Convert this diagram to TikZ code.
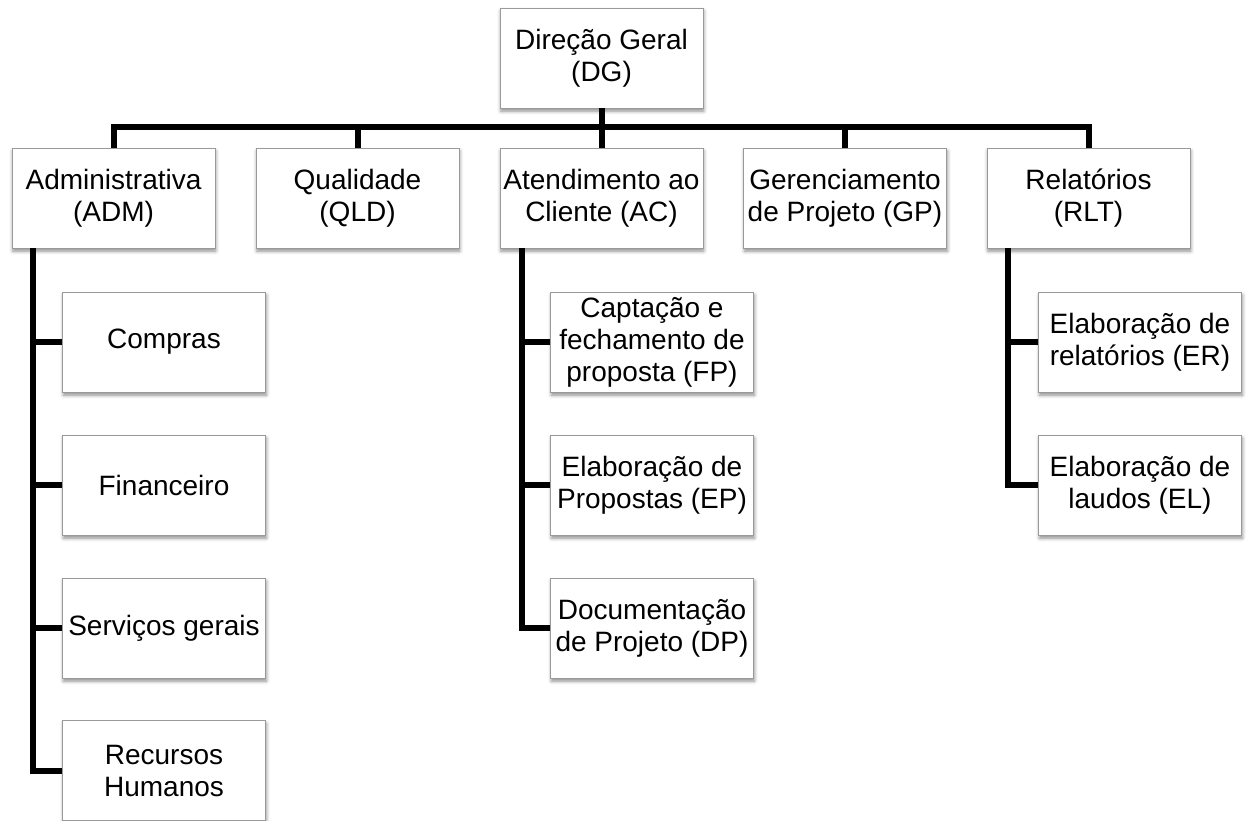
\documentclass[tikz,border=0pt]{standalone}
\usepackage{fontspec}
\setmainfont{Liberation Sans}
\usetikzlibrary{shadows.blur}
\begin{document}
\begin{tikzpicture}[x=1pt,y=-1pt,
  unit/.style={draw=black!40, line width=0.9pt, fill=white,
    minimum width=203pt, minimum height=100pt, inner sep=0pt,
    align=center, font=\fontsize{28}{32}\selectfont,
    blur shadow={shadow xshift=0.8pt, shadow yshift=-3pt,
      shadow blur radius=3.5pt, shadow opacity=45}},
  link/.style={line width=6pt, black}]
\useasboundingbox (0,0) rectangle (1252,821);

% top level and departments
\node[unit] (dg)  at (601.5,58)  {Direção Geral\\(DG)};
\node[unit] (adm) at (113.5,198) {Administrativa\\(ADM)};
\node[unit] (qld) at (357.5,198) {Qualidade\\(QLD)};
\node[unit] (ac)  at (601.5,198) {Atendimento ao\\Cliente (AC)};
\node[unit] (gp)  at (845,198)   {Gerenciamento\\de Projeto (GP)};
\node[unit] (rlt) at (1088.5,198) {Relatórios\\(RLT)};

% administrative sections
\node[unit] (cmp) at (164,342)   {Compras};
\node[unit] (fin) at (164,485)   {Financeiro};
\node[unit] (srv) at (164,628)   {Serviços gerais};
\node[unit] (rh)  at (164,770.5) {Recursos\\Humanos};

% customer service sections
\node[unit] (fp) at (652,342) {Captação e\\fechamento de\\proposta (FP)};
\node[unit] (ep) at (652,485) {Elaboração de\\Propostas (EP)};
\node[unit] (dp) at (652,628) {Documentação\\de Projeto (DP)};

% report sections
\node[unit] (er) at (1140,342) {Elaboração de\\relatórios (ER)};
\node[unit] (el) at (1140,485) {Elaboração de\\laudos (EL)};

% main bus
\coordinate (bus) at (601.5,127);
\draw[link] (dg.south) -- (bus);
\draw[link] (adm.north) |- (bus) -| (rlt.north);
\draw[link] (qld.north) -- (qld.north |- bus);
\draw[link] (ac.north) -- (ac.north |- bus);
\draw[link] (gp.north) -- (gp.north |- bus);

% administrative branch
\coordinate (admx) at (33,248);
\draw[link] (admx) |- (rh.west);
\draw[link] (admx |- cmp.west) -- (cmp.west);
\draw[link] (admx |- fin.west) -- (fin.west);
\draw[link] (admx |- srv.west) -- (srv.west);

% customer service branch
\coordinate (acx) at (522,248);
\draw[link] (acx) |- (dp.west);
\draw[link] (acx |- fp.west) -- (fp.west);
\draw[link] (acx |- ep.west) -- (ep.west);

% report branch
\coordinate (rltx) at (1008,248);
\draw[link] (rltx) |- (el.west);
\draw[link] (rltx |- er.west) -- (er.west);
\end{tikzpicture}
\end{document}
